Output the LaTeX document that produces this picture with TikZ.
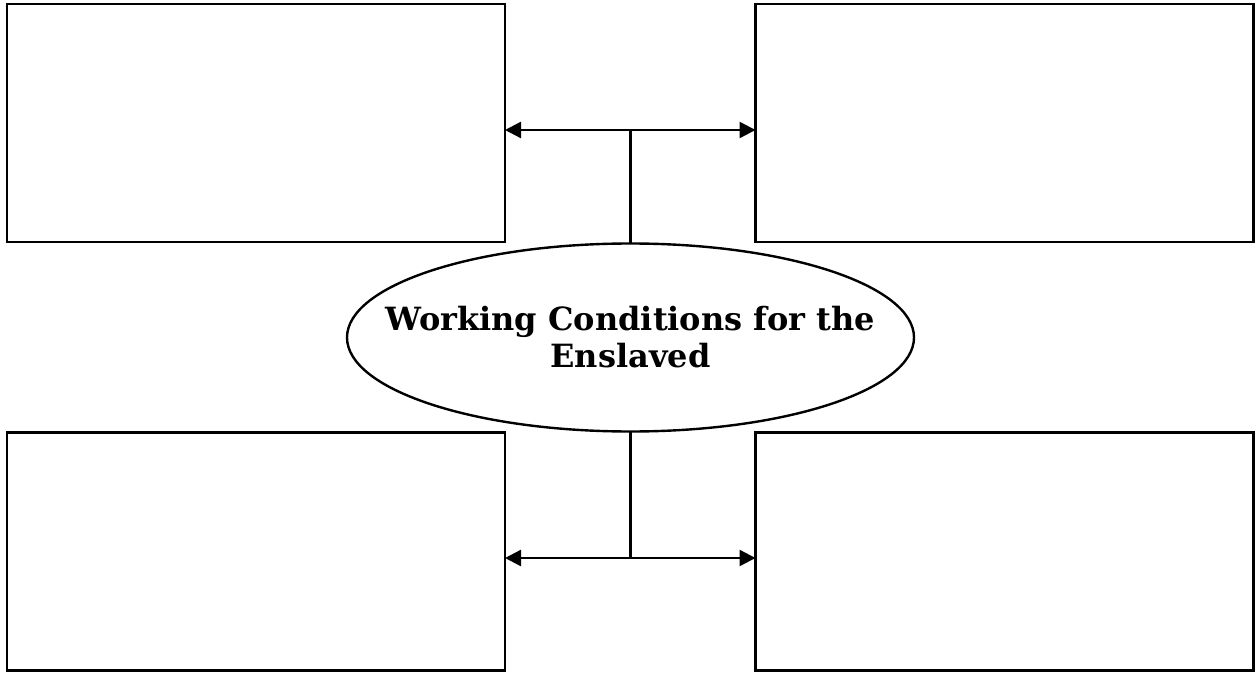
\documentclass[tikz,border=0pt]{standalone}
\usepackage{fontspec}
\setmainfont{DejaVu Serif}
\usetikzlibrary{shapes.geometric,arrows.meta}
\begin{document}
\begin{tikzpicture}[x=1pt,y=1pt,
  boxnode/.style={draw,line width=2.4pt,minimum width=498pt,minimum height=238pt,inner sep=0pt,outer sep=0pt},
  conn/.style={line width=2.4pt},
  tip/.tip={Triangle[length=16pt,width=16pt]},
  dbl/.style={line width=2.4pt,tip-tip}]
\useasboundingbox (0,0) rectangle (1257,673);
\node[boxnode] (tl) at (256,550) {};
\node[boxnode] (tr) at (1004.5,550) {};
\node[boxnode] (bl) at (256,121.5) {};
\node[boxnode] (br) at (1004.5,121.5) {};
\node[draw,ellipse,line width=2.4pt,minimum width=567pt,minimum height=188pt,inner sep=0pt,outer sep=0pt,
      label={[align=center,font=\bfseries\fontsize{32}{37}\selectfont]center:Working Conditions for the\\Enslaved}] (ell) at (630.5,335.5) {};
\coordinate (tj) at (630.5,543);
\coordinate (bj) at (630.5,115);
\draw[conn] (ell.north) -- (tj);
\draw[dbl] (tl.east |- tj) -- (tr.west |- tj);
\draw[conn] (ell.south) -- (bj);
\draw[dbl] (bl.east |- bj) -- (br.west |- bj);
\end{tikzpicture}
\end{document}
